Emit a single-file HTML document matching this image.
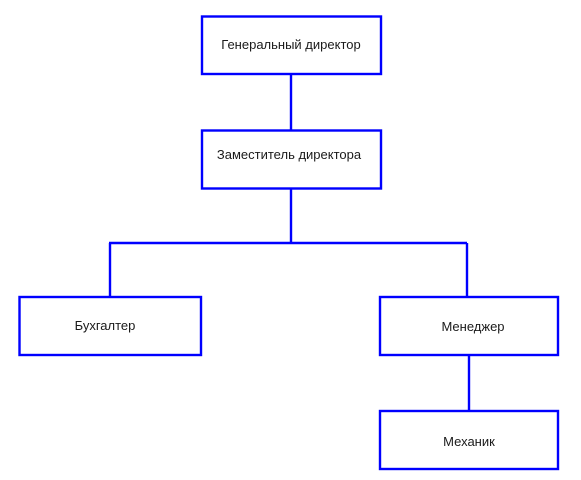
<!DOCTYPE html>
<html><head><meta charset="utf-8"><style>
html,body{margin:0;padding:0;background:#fff;width:581px;height:480px;overflow:hidden}
svg{display:block}
text{font-family:"Liberation Sans","DejaVu Sans",sans-serif;font-size:13px;fill:#1a1a1a}
</style></head><body>
<svg width="581" height="480" viewBox="0 0 581 480" xmlns="http://www.w3.org/2000/svg">
<g fill="none" stroke="#0000ff" stroke-width="2.4">
<rect x="202" y="16.5" width="179" height="57.5"/>
<rect x="202" y="130.5" width="179" height="58"/>
<rect x="19.5" y="297" width="181.5" height="58"/>
<rect x="380" y="297" width="178" height="58"/>
<rect x="380" y="411" width="178" height="58"/>
<path d="M291 74V130.5M291 188.5V243M109 243H467M110 243V297M467 243V297M469 355V411"/>
</g>
<text x="291" y="49" text-anchor="middle">Генеральный директор</text>
<text x="289" y="159" text-anchor="middle">Заместитель директора</text>
<text x="105" y="330" text-anchor="middle">Бухгалтер</text>
<text x="473" y="331" text-anchor="middle">Менеджер</text>
<text x="469" y="446" text-anchor="middle">Механик</text>
</svg>
</body></html>
